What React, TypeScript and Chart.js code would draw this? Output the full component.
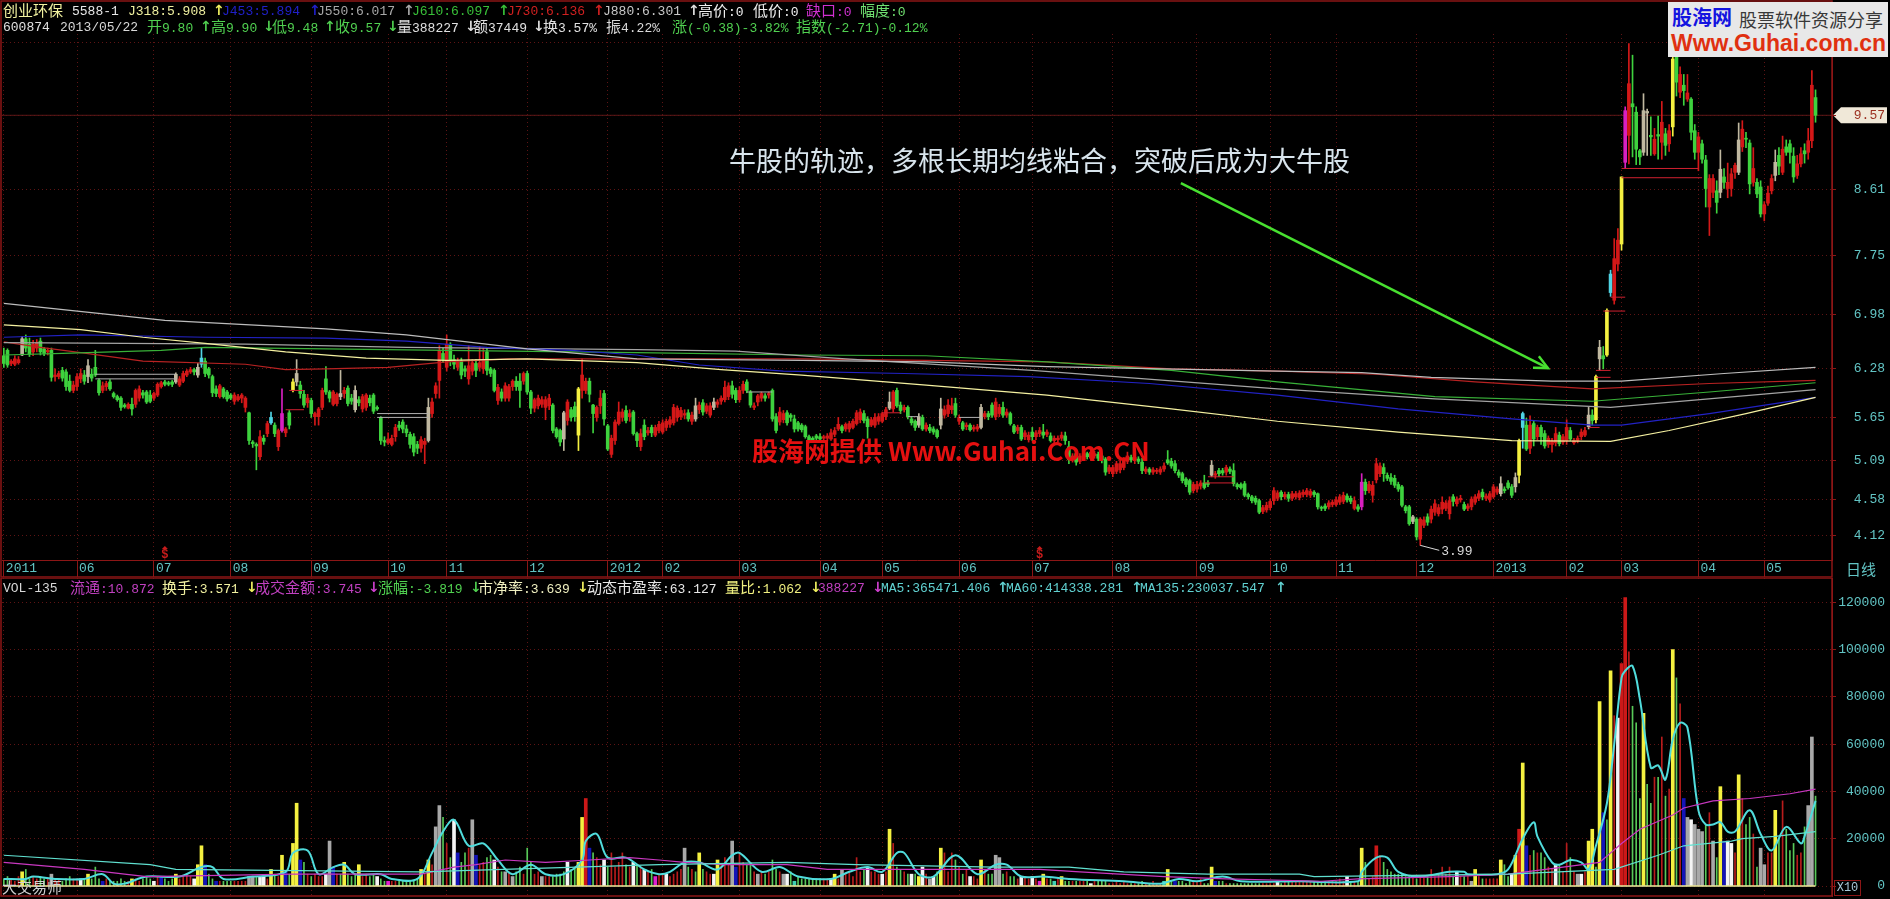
import React, { useEffect, useRef } from "react";
import { Chart, registerables } from "chart.js";

Chart.register(...registerables);

// ---------- price data: open, close, high, low in cents, four values per trading day ----------
const bars2011a = [
  645,635,655,630, 652,633,654,630, 635,638,640,632, 634,641,645,632, 636,640,644,634, 646,667,670,645, 667,655,672,650, 660,647,668,644, 650,660,665,645, 655,662,666,650,
  664,650,668,646, 654,648,656,645, 650,652,655,646, 652,617,655,612, 618,620,628,612, 618,622,625,615, 626,616,630,612, 624,605,627,600, 612,600,620,598, 600,607,612,597,
  605,618,622,600, 615,622,628,610, 620,612,626,608, 618,632,640,610, 621,616,628,612, 630,620,652,618, 613,597,615,594, 600,606,611,597, 605,609,612,600, 611,602,614,600,
  596,592,598,590, 592,588,594,586, 590,578,592,574, 581,579,583,577, 577,582,584,576, 582,576,590,568, 582,600,602,578, 590,602,606,586, 597,594,600,590, 598,585,600,583,
  594,586,600,584, 590,596,598,587, 594,608,610,592, 605,610,612,603, 611,608,613,606, 610,608,612,606, 611,608,613,605, 621,611,623,609, 607,615,618,605, 612,622,625,610,
  620,625,627,618, 624,627,630,622, 627,624,629,620, 630,620,635,617, 642,634,656,630, 638,622,642,618, 628,620,630,616, 618,597,620,592, 602,596,606,592, 592,606,608,590,
  602,592,604,590, 598,589,600,586, 594,590,596,588, 586,594,597,582, 588,592,595,586, 590,594,596,584, 578,590,592,572, 571,535,572,530, 533,531,535,526, 530,528,532,497,
  514,540,548,510, 538,534,542,530, 544,557,560,540, 565,558,572,556, 555,544,558,540, 527,548,550,522, 570,548,602,546, 545,550,552,540, 571,555,574,550, 600,611,615,598,
  622,611,640,606, 607,596,612,590, 595,581,600,578, 584,590,595,578, 587,570,590,565, 566,570,572,555, 566,576,578,555, 578,600,603,575, 615,598,631,595, 598,590,600,585,
  582,598,600,580, 583,595,597,580, 596,592,626,588, 596,600,604,590, 603,583,606,580, 590,586,595,582, 600,575,606,572, 588,584,592,580, 576,592,595,572, 578,594,596,574,
];
const bars2011b = [
  590,584,594,580, 594,573,596,570, 578,576,580,574, 565,535,566,530, 535,533,540,528, 532,537,545,530, 530,538,542,528, 540,552,556,534, 555,552,560,548, 559,550,562,545,
  550,545,555,540, 543,530,546,525, 540,520,544,515, 530,525,534,518, 525,536,540,520, 530,534,538,505, 578,535,590,533, 570,585,590,565, 596,606,610,590, 613,652,658,590,
  648,640,655,636, 630,660,672,625, 660,639,662,632, 640,634,646,628, 630,638,642,626, 638,620,642,615, 628,625,632,618, 615,632,658,608, 625,636,640,620, 635,626,640,618,
  630,636,657,625, 628,640,655,622, 650,626,655,620, 628,622,630,618, 626,600,628,598, 587,604,608,582, 598,590,602,586, 590,606,610,586, 590,605,608,586, 605,612,614,600,
  612,605,618,600, 612,600,622,578, 612,622,624,608, 622,598,625,595, 598,577,600,570, 577,588,590,572, 580,590,594,576, 582,588,592,578, 578,588,592,562, 580,590,595,575,
  581,548,583,545, 550,540,552,538, 548,533,550,528, 571,537,573,522, 561,585,588,555, 575,565,578,560, 579,566,585,560, 602,542,604,522, 600,620,641,590, 600,612,616,596,
  612,595,616,585, 581,570,582,545, 565,578,580,560, 580,590,600,570, 596,563,600,555, 554,524,556,522, 517,538,542,513, 535,559,562,530, 557,572,585,555, 565,572,576,560,
  574,561,580,558, 566,570,575,560, 572,544,574,542, 544,535,546,527, 527,544,550,522, 555,540,562,536, 545,548,552,542, 552,545,555,540, 542,552,555,540, 548,556,560,545,
  546,558,562,544, 552,560,563,548, 556,562,566,552, 558,578,582,555, 565,577,580,560, 566,574,578,562, 568,570,575,563, 571,563,575,560, 560,568,572,556, 580,563,590,560,
  575,581,585,570, 584,572,588,568, 573,580,583,570, 568,580,584,565, 585,578,590,575, 582,585,588,578, 586,590,593,582, 588,604,612,585, 592,606,610,588, 606,595,612,590,
];
const bars2012a = [
  600,588,603,584, 588,600,605,585, 600,608,612,596, 611,600,614,597, 598,581,600,578, 578,580,584,575, 585,593,595,580, 590,596,598,586, 593,590,596,586, 594,596,598,590,
  600,563,602,560, 566,548,570,545, 559,572,578,555, 562,570,574,558, 571,558,574,555, 568,565,570,560, 563,550,568,546, 558,550,560,547, 555,549,557,546, 553,540,555,538,
  540,535,542,532, 538,536,540,534, 541,538,543,535, 540,537,544,534, 538,540,542,535, 538,541,544,535, 537,545,550,535, 543,548,552,540, 550,556,565,548, 553,548,555,545,
  550,556,558,547, 550,557,560,546, 552,560,563,550, 557,571,574,555, 562,572,576,558, 570,561,574,558, 563,553,566,538, 555,562,565,553, 555,565,570,552, 560,566,570,556,
  560,570,572,558, 566,575,578,562, 585,577,598,575, 576,598,600,572, 600,580,603,578, 581,574,585,570, 575,578,581,572, 578,566,580,563, 563,558,566,555, 560,552,562,548,
  555,566,570,552, 565,550,568,548, 550,555,558,547, 552,548,556,545, 550,546,553,543, 548,540,550,538, 555,576,590,550, 568,575,580,564, 570,581,588,566, 575,580,590,570,
  583,568,590,565, 560,565,568,556, 558,550,560,548, 553,555,558,549, 555,549,557,547, 550,552,555,547, 550,553,556,547, 578,552,582,550, 566,570,573,563, 570,566,573,562,
  581,568,584,565, 566,585,590,562, 570,578,582,566, 578,568,585,565, 568,572,576,565, 570,557,572,555, 554,546,556,544, 548,552,555,544, 552,537,555,535, 540,545,548,536,
  536,542,546,533, 546,540,552,535, 540,545,548,536, 544,548,552,540, 546,542,556,538, 543,546,549,540, 541,535,545,533, 535,538,541,532, 536,538,541,533, 538,542,546,535,
  541,535,546,530, 527,510,534,505, 510,515,518,507, 518,507,520,503, 508,515,518,505, 512,518,521,509, 518,514,520,511, 512,520,523,510, 515,518,521,512, 517,512,520,509,
];
const bars2012b = [
  515,510,518,506, 511,494,513,490, 495,500,503,492, 492,500,503,488, 495,505,508,492, 497,505,510,493, 500,510,513,497, 508,515,520,505, 513,510,516,507, 510,513,518,505,
  511,508,514,505, 507,496,512,492, 495,498,501,492, 498,494,500,491, 494,497,500,491, 495,496,499,492, 494,498,501,491, 498,502,506,495, 510,506,522,504, 508,502,512,499,
  505,496,509,493, 494,490,497,487, 492,483,494,480, 485,478,487,475, 483,468,485,465, 470,478,481,467, 472,478,482,468, 476,480,483,472, 480,474,490,472, 480,478,483,475,
  503,490,509,488, 490,492,495,486, 496,492,499,488, 496,493,499,490, 494,500,503,490, 498,495,501,492, 496,479,505,476, 478,475,480,472, 478,474,480,472, 479,464,482,462,
  465,462,467,459, 462,457,464,454, 460,455,463,452, 457,442,459,440, 443,448,451,440, 445,451,455,442, 448,456,459,445, 457,470,474,452, 460,467,470,457, 468,462,470,458,
  462,465,468,459, 465,460,468,456, 460,466,469,457, 462,466,469,459, 461,467,470,458, 465,468,471,462, 465,470,473,462, 464,469,472,461, 468,465,470,462, 466,449,467,446,
  448,447,450,444, 450,447,453,444, 449,454,457,446, 452,455,458,449, 452,458,462,450, 455,462,465,452, 456,464,468,453, 463,458,466,455, 460,456,463,453, 447,457,462,445,
  449,446,452,443, 481,449,492,445, 481,470,485,465, 470,478,482,467, 464,477,482,455, 484,505,512,480, 492,502,506,488, 500,492,505,482, 490,486,493,483, 487,482,492,478,
  486,477,490,474, 478,472,481,469, 475,451,477,449, 449,444,451,441, 449,427,451,425, 430,436,438,427, 433,410,435,406, 407,433,435,399, 425,432,436,422, 436,429,440,425,
  433,446,450,428, 442,453,458,438, 440,448,452,437, 446,455,462,440, 447,454,457,444, 440,457,462,433, 462,456,465,450, 453,459,462,450, 458,460,464,455, 452,446,455,444,
];
const bars2013 = [
  447,450,453,444, 449,459,462,445, 455,462,465,452, 460,466,470,457, 468,462,472,458, 460,463,466,457, 458,466,469,455, 462,475,478,460, 468,472,475,465, 479,466,488,463,
  472,470,475,467, 480,474,483,472, 475,464,478,461, 487,475,493,468, 535,490,537,480, 570,552,572,525, 555,524,564,522, 525,555,567,518, 557,537,560,528, 540,552,555,536,
  552,540,555,530, 544,528,548,525, 530,538,541,526, 530,534,538,520, 532,544,552,528, 542,531,546,528, 533,540,543,530, 535,552,562,530, 548,537,552,535, 532,535,538,530,
  535,538,541,532, 540,546,550,536, 542,548,552,540, 568,553,578,550, 568,561,575,555, 618,562,620,558, 656,641,665,626, 645,641,657,628, 704,646,706,644, 751,727,756,722,
  717,771,797,712, 764,795,810,755, 790,877,877,782, 963,896,968,888, 931,998,1050,894, 972,968,1035,903, 961,913,968,893, 911,903,913,893, 963,909,985,905, 962,960,965,905,
  931,929,955,905, 907,926,940,905, 932,930,956,900, 922,948,975,900, 933,918,940,905, 920,937,945,910, 1030,942,1035,930, 1041,1000,1058,982, 987,1010,1020,980, 996,989,1010,970,
  978,986,1010,975, 978,935,980,925, 937,909,945,900, 909,929,935,885, 920,900,925,895, 899,862,905,838, 838,875,880,801, 857,875,880,850, 859,844,872,830, 887,857,912,850,
  877,870,888,862, 862,870,895,850, 862,881,888,852, 883,892,895,875, 925,883,947,880, 916,939,950,910, 927,926,935,915, 921,868,925,855, 870,888,915,865, 870,855,875,850,
  864,829,872,825, 829,841,845,820, 843,856,865,840, 859,875,880,855, 896,879,912,872, 905,891,915,880, 883,913,930,880, 916,909,925,905, 920,909,925,895, 904,877,915,870,
  879,894,905,875, 894,907,915,890, 911,907,920,895, 909,924,940,900, 924,996,1015,915, 980,957,990,948,
];

// bars drawn in other colours
const yellowCandles = [79, 157, 414, 435, 438, 442, 456];
const cyanCandles = [54, 73, 415, 439];
const magentaCandles = [76, 371, 443];
const greyCandles = [5, 23, 47, 53, 80, 92, 96, 116, 153, 189, 194, 242, 250, 256, 267, 330, 385, 409, 413, 433, 436, 448, 449, 469, 474, 484];

// ---------- moving averages of the price: [bar index, price in cents] ----------
const ma880 = [[0,713],[44,691],[88,680],[110,672],[143,654],[173,641],[218,639],[252,637],[285,631],[348,625],[371,623],[390,617],[423,612],[442,612],[470,622],[495,630]];
const ma318 = [[0,685],[21,679],[38,669],[55,661],[77,650],[99,642],[121,639],[143,641],[173,636],[196,627],[218,620],[252,607],[285,594],[319,576],[348,560],[381,546],[412,535],[439,534],[455,548],[476,570],[495,591]];
const ma453 = [[0,669],[21,672],[55,669],[88,668],[110,664],[132,656],[155,652],[173,646],[190,633],[213,625],[246,622],[280,618],[313,609],[348,594],[381,576],[412,563],[434,555],[442,555],[466,570],[495,591]];
const ma550 = [[0,662],[66,660],[110,656],[173,653],[200,651],[230,641],[281,626],[348,602],[391,589],[439,578],[495,601]];
const ma610 = [[0,646],[16,648],[43,652],[55,656],[88,654],[121,652],[173,649],[218,646],[252,645],[285,637],[319,626],[348,611],[391,592],[434,586],[466,598],[495,610]];
const ma730 = [[0,663],[10,656],[21,649],[38,638],[66,634],[77,627],[88,628],[105,630],[121,637],[138,641],[173,641],[218,641],[252,639],[285,637],[319,628],[348,625],[375,621],[402,611],[434,602],[466,609],[495,613]];

// gap marks: [first bar, last bar, price in cents]
const greyGaps = [[25,47,621],[25,47,615],[102,116,570],[102,116,565],[203,210,598],[247,250,566],[261,267,565]];
const redGaps = [[78,82,600],[77,82,575],[240,245,571],[329,336,488],[328,336,480],[433,436,552],[435,439,617],[435,439,626],[437,443,703],[439,443,721],[442,463,888],[442,464,876]];

// ---------- volume, thousands of lots per trading day ----------
const volumes = [
  3,4,3,2,4,6,7,3,4,3, 4,3,3,5,3,3,2,3,4,3, 3,3,3,5,3,8,3,2,3,2, 2,2,3,2,2,3,3,2,3,4, 3,2,4,4,3,2,3,5,3,4,
  5,4,3,9,17,9,5,3,2,2, 2,2,2,2,2,2,2,4,4,4, 4,4,3,7,5,4,13,6,5,18, 35,11,10,5,4,5,4,4,5,19, 8,5,5,10,5,4,5,9,4,5,
  4,5,4,3,2,2,2,2,2,2, 2,2,2,3,7,5,11,9,25,34, 29,18,12,28,14,10,14,16,28,13, 9,10,12,13,11,8,6,6,6,4, 6,8,5,16,10,5,6,4,4,4,
  4,5,5,6,10,7,8,10,29,37, 16,14,12,9,11,8,14,8,10,14, 9,8,10,9,8,7,6,7,4,5, 5,5,4,5,6,7,16,8,7,6, 14,7,6,5,5,11,9,12,9,19,
  8,14,10,9,10,6,5,6,5,6, 11,7,6,5,5,6,2,4,3,3, 3,3,3,3,3,3,3,5,3,7, 5,6,4,12,6,7,8,6,6,5, 5,6,24,18,8,7,6,5,5,5,
  4,8,5,3,4,6,16,14,6,14, 11,8,5,7,4,4,3,11,7,5, 5,13,12,5,6,4,4,3,4,4, 3,4,3,2,5,3,3,2,3,4, 2,2,2,2,2,2,2,1,2,2,
  2,2,1,1,2,1,2,1,1,1, 1,2,1,1,2,1,1,2,7,2, 2,2,2,1,2,2,2,3,1,1, 8,2,2,2,1,1,1,1,1,1, 1,1,1,1,1,1,1,1,2,1,
  2,2,2,2,2,2,2,2,2,2, 2,2,2,2,2,3,2,4,2,2, 2,16,10,3,4,17,13,10,7,6, 5,5,5,4,4,4,3,4,4,4, 7,4,5,8,5,8,4,6,4,4,
  4,2,7,4,3,3,3,3,3,11, 9,4,5,13,24,52,17,13,15,14, 14,12,8,7,9,9,6,18,12,6, 5,5,6,19,24,8,78,31,28,91,
  72,71,94,122,99,76,69,37,73,43, 35,46,46,63,38,41,100,88,77,37, 29,28,26,24,23,26,31,19,12,42, 19,19,18,14,47,37,26,29,22,8,
  16,9,14,14,32,20,36,24,15,18, 13,14,25,34,63,38,
];
const volYellow = [5,23,35,47,53,54,73,76,79,80,93,97,114,116,157,158,190,195,227,242,250,256,267,284,289,318,330,371,402,409,413,415,433,434,436,439,448,456,469,474,484];
const volGrey = [13,67,68,89,118,119,128,137,139,147,186,199,206,213,229,253,271,272,401,430,460,462,463,464,467,480,481,493,494];
const volWhite = [21,41,52,70,71,88,102,123,134,154,164,172,175,181,194,214,226,236,240,248,251,254,264,278,281,297,348,367,397,412,424,431,441,461,471,472];
const volBlue = [27,43,55,58,77,81,90,124,129,160,200,320,331,416,437,459,470];
const volMagenta = [105,178,283];
const volTeal = [216,287,317];
const volThickRed = [159,375,414,442,443];

// volume averages: [bar index, thousands]
const volMa5 = [[0,3],[6,3],[8,4],[14,3],[22,3],[27,5],[30,1],[33,1],[39,4],[48,4],[54,8],[57,8],[60,3],[68,4],[77,6],[79,14],[83,15],[86,5],[90,8],[93,9],[96,5],[103,5],[106,3],[113,3],[117,14],[120,23],[123,28],[127,17],[131,18],[135,11],[139,5],[144,9],[148,5],[153,5],[158,11],[159,19],[162,22],[165,12],[170,12],[175,7],[179,5],[182,6],[186,10],[190,10],[195,7],[199,13],[201,14],[207,6],[212,8],[217,4],[226,3],[231,6],[236,8],[240,6],[244,14],[246,14],[250,5],[254,4],[260,13],[266,5],[271,9],[274,9],[278,4],[284,4],[291,3],[306,2],[316,1],[321,3],[326,2],[333,4],[338,2],[354,2],[370,2],[371,6],[375,12],[378,12],[381,6],[387,4],[395,6],[399,6],[400,5],[408,5],[411,7],[415,20],[418,27],[419,21],[423,10],[425,9],[428,11],[431,10],[433,7],[435,17],[438,35],[440,60],[442,88],[443,91],[445,93],[447,79],[450,50],[452,51],[454,45],[456,62],[458,69],[460,67],[463,32],[465,26],[467,26],[469,27],[471,23],[473,23],[477,32],[480,22],[483,15],[487,25],[491,18],[492,21],[495,36]];
const volMa60 = [[0,10],[22,7],[33,5],[39,4],[79,5],[86,5],[114,5],[123,8],[129,9],[137,11],[148,10],[160,11],[171,12],[179,11],[186,10],[197,9],[214,9],[225,7],[248,7],[265,7],[283,7],[294,6],[317,4],[334,3],[360,2],[370,3],[395,4],[411,5],[426,8],[436,10],[442,18],[447,24],[456,30],[459,33],[467,36],[477,37],[488,39],[495,41]];
const volMa135 = [[0,13],[40,9],[47,7],[114,6],[179,9],[214,10],[233,9],[271,8],[291,8],[306,6],[329,5],[354,5],[358,4],[411,5],[440,7],[452,13],[459,17],[472,19],[475,20],[484,21],[495,23]];

// ---------- axes ----------
const monthTicks = [0,20,41,62,84,105,121,143,165,180,201,223,240,261,281,303,326,346,364,386,407,427,442,463,481];
const monthLabels = ["2011","06","07","08","09","10","11","12","2012","02","03","04","05","06","07","08","09","10","11","12","2013","02","03","04","05"];
const priceTicks = [4.12,4.58,5.09,5.65,6.28,6.98,7.75,8.61,9.57,10.52];
const volumeTicks = [0,20000,40000,60000,80000,100000,120000];
const lastPrice = 9.57;
const lowLabel = { bar: 387, price: 3.99, text: "3.99" };
const dividendBars = [44, 283];
const arrowStart = { bar: 321.6, price: 8.69 };
const arrowEnd = { bar: 421.9, price: 6.29 };

// ---------- text ----------
type Seg = [number, string, string];
const row1: Seg[] = [
  [3,"创业环保","#f2f2a0"],[72,"5588-1","#e8e8e8"],[128,"J318:5.908","#f0f0a0"],[213,"↑","#f0f060"],[222,"J453:5.894","#2020c8"],[309,"↑","#2020c8"],
  [317,"J550:6.017","#a8a8a8"],[403,"↑","#a8a8a8"],[412,"J610:6.097","#38c038"],[498,"↑","#38c038"],[507,"J730:6.136","#d02020"],[593,"↑","#d02020"],
  [603,"J880:6.301","#c8c8c8"],[688,"↑","#e0e0e0"],[698,"高价:0","#f0f0f0"],[753,"低价:0","#f0f0f0"],[806,"缺口:0","#d030d0"],[860,"幅度:0","#70e070"],
];
const row2: Seg[] = [
  [3,"600874","#e0e0e0"],[60,"2013/05/22","#d8d8d8"],[147,"开9.80","#50d050"],[200,"↑","#50d050"],[211,"高9.90","#50d050"],[263,"↓","#50d050"],
  [272,"低9.48","#50d050"],[324,"↑","#50d050"],[335,"收9.57","#50d050"],[387,"↓","#50d050"],[397,"量388227","#e0e0e0"],[465,"↓","#e0e0e0"],
  [473,"额37449","#e0e0e0"],[533,"↓","#e0e0e0"],[543,"换3.57%","#e0e0e0"],[606,"振4.22%","#d8d8d8"],[672,"涨(-0.38)-3.82%","#50d050"],[796,"指数(-2.71)-0.12%","#50d050"],
];
const row3: Seg[] = [
  [3,"VOL-135","#d8d8d8"],[70,"流通:10.872","#c040c0"],[162,"换手:3.571","#f0f0a0"],[246,"↓","#f0f060"],[255,"成交金额:3.745","#c040c0"],[368,"↓","#d040d0"],
  [378,"涨幅:-3.819","#50d050"],[470,"↓","#50d050"],[478,"市净率:3.639","#f0f0c0"],[577,"↓","#f0f060"],[587,"动态市盈率:63.127","#e8e8e8"],[725,"量比:1.062","#f0f080"],[810,"↓","#f0f060"],
  [818,"388227","#c040c0"],[872,"↓","#d040d0"],[881,"MA5:365471.406","#60d0d0"],[997,"↑","#60d0d0"],[1006,"MA60:414338.281","#60d0d0"],[1131,"↑","#60d0d0"],[1140,"MA135:230037.547","#60d0d0"],[1275,"↑","#60d0d0"],
];
const noteText = "牛股的轨迹，多根长期均线粘合，突破后成为大牛股";
const watermarkText = "股海网提供 Www.Guhai.Com.CN";
const logoName = "股海网";
const logoTag = "股票软件资源分享";
const logoUrl = "Www.Guhai.com.cn";
const brandText = "大交易师";
const periodText = "日线";
const scaleText = "X10";

// ---------- derived series ----------
const bars = [...bars2011a, ...bars2011b, ...bars2012a, ...bars2012b, ...bars2013];
const barCount = bars.length / 4;
const idx = Array.from({ length: barCount }, (_, i) => i);
const openAt = (i: number) => bars[i * 4] / 100;
const closeAt = (i: number) => bars[i * 4 + 1] / 100;
const highAt = (i: number) => bars[i * 4 + 2] / 100;
const lowAt = (i: number) => bars[i * 4 + 3] / 100;

const RED = "#d41818";
const GREEN = "#3ed23e";
const FRAME = "#8c1616";
const GRID = "#5e1414";
const TICK = "#62c4c4";
const MONO = '"Liberation Mono", "DejaVu Sans Mono", monospace';
const CJK = '"Noto Sans CJK SC", sans-serif';

const candleColor = (i: number) => {
  if (yellowCandles.includes(i)) return "#f4f040";
  if (cyanCandles.includes(i)) return "#50d4e4";
  if (magentaCandles.includes(i)) return "#d820c0";
  if (greyCandles.includes(i)) return "#c0b8a0";
  return closeAt(i) >= openAt(i) ? RED : GREEN;
};
const thickVolumeColor = (i: number) => {
  if (volYellow.includes(i)) return "#f4f040";
  if (volGrey.includes(i)) return "#a8a8a8";
  if (volWhite.includes(i)) return "#f4f4f4";
  if (volBlue.includes(i)) return "#1414b8";
  if (volMagenta.includes(i)) return "#e020d0";
  if (volTeal.includes(i)) return "#40d0b0";
  if (volThickRed.includes(i)) return "#cc1818";
  return null;
};
const pricePts = (a: number[][]) => a.map(([x, c]) => ({ x, y: c / 100 }));
const volPts = (a: number[][]) => a.map(([x, k]) => ({ x, y: k * 1000 }));
const gapPts = (a: number[][]) => a.flatMap(([s, e, c]) => [{ x: s, y: c / 100 }, { x: e, y: c / 100 }, { x: e, y: null as any }]);
const lineDs = (label: string, data: any[], color: string, width = 1.2, tension = 0, order = 1) => ({
  type: "line" as const, label, data, borderColor: color, borderWidth: width, pointRadius: 0, tension, order, spanGaps: false,
});

const xScale = (showLabels: boolean) => ({
  type: "linear" as const,
  min: -0.5,
  max: 499.5,
  offset: false,
  afterBuildTicks: (s: any) => { s.ticks = monthTicks.map((value) => ({ value })); },
  afterFit: (s: any) => { s.height = showLabels ? 18 : 0; s.paddingLeft = 0; s.paddingRight = 0; },
  border: { display: showLabels, color: FRAME, dash: [1, 3] },
  grid: { offset: false, color: GRID, lineWidth: 1, drawTicks: showLabels, tickLength: 17, tickColor: FRAME, tickBorderDash: [], z: -1 },
  ticks: {
    display: showLabels, autoSkip: false, maxRotation: 0, minRotation: 0, align: "start" as const, labelOffset: 2, padding: -16,
    color: TICK, font: { family: MONO, size: 13 },
    callback: (v: any) => monthLabels[monthTicks.indexOf(Number(v))] ?? "",
  },
});
const yScale = (min: number, max: number, ticks: number[], format: (v: number) => string, color: any) => ({
  position: "right" as const,
  min,
  max,
  afterBuildTicks: (s: any) => { s.ticks = ticks.map((value) => ({ value })); },
  afterFit: (s: any) => { s.width = 53; s.paddingTop = 0; s.paddingBottom = 0; },
  border: { display: true, color: FRAME, dash: [1, 3] },
  grid: { color: GRID, lineWidth: 1, tickLength: 4, tickColor: FRAME, tickBorderDash: [], z: -1 },
  ticks: { autoSkip: false, crossAlign: "far" as const, padding: 0, color, font: { family: MONO, size: 13 }, callback: (v: any) => format(Number(v)) },
});

const framePlugin = (bottom: number, top: number) => ({
  id: "frame",
  afterDraw(c: any) {
    const g = c.ctx;
    g.save();
    g.strokeStyle = FRAME;
    g.lineWidth = 1.5;
    g.strokeRect(1, top, c.chartArea.right - 1, bottom - top);
    g.restore();
  },
});

const pricePlugin = {
  id: "priceMarks",
  beforeDraw(c: any) {
    const g = c.ctx;
    const y = c.scales.y.getPixelForValue(lastPrice);
    g.save();
    g.fillStyle = "#f0e8d8";
    g.beginPath();
    g.moveTo(c.chartArea.right + 1, y);
    g.lineTo(c.chartArea.right + 9, y - 8);
    g.lineTo(1887, y - 8);
    g.lineTo(1887, y + 8);
    g.lineTo(c.chartArea.right + 9, y + 8);
    g.closePath();
    g.fill();
    g.restore();
  },
  afterDatasetsDraw(c: any) {
    const g = c.ctx;
    const { x, y } = c.scales;
    g.save();
    // arrow of the note
    const ax = x.getPixelForValue(arrowStart.bar), ay = y.getPixelForValue(arrowStart.price);
    const bx = x.getPixelForValue(arrowEnd.bar), by = y.getPixelForValue(arrowEnd.price);
    const ang = Math.atan2(by - ay, bx - ax);
    g.strokeStyle = "#48e030";
    g.lineWidth = 2.5;
    g.beginPath(); g.moveTo(ax, ay); g.lineTo(bx, by); g.stroke();
    g.beginPath();
    g.moveTo(bx - 15 * Math.cos(ang - 0.45), by - 15 * Math.sin(ang - 0.45));
    g.lineTo(bx, by);
    g.lineTo(bx - 15 * Math.cos(ang + 0.45), by - 15 * Math.sin(ang + 0.45));
    g.stroke();
    // low label
    const lx = x.getPixelForValue(lowLabel.bar), ly = y.getPixelForValue(lowLabel.price);
    g.strokeStyle = "#d8d8d8";
    g.lineWidth = 1;
    g.beginPath(); g.moveTo(lx, ly); g.lineTo(lx + 19, ly + 5); g.stroke();
    g.fillStyle = "#d8d8d8";
    g.font = `13px ${MONO}`;
    g.textBaseline = "middle";
    g.fillText(lowLabel.text, lx + 21, ly + 6);
    // dividend marks
    g.fillStyle = "#c81c1c";
    g.font = `bold 12px ${MONO}`;
    g.textAlign = "center";
    dividendBars.forEach((b) => {
      const px = x.getPixelForValue(b);
      g.fillText("$", px, 555);
      g.beginPath(); g.moveTo(px - 3, 549); g.lineTo(px, 546); g.lineTo(px + 3, 549); g.fill();
    });
    g.restore();
  },
};

function Mixed({ text, size = 13 }: { text: string; size?: number }) {
  const parts = text.split(/([\u3000-\u9fff\uff00-\uffef]+|[↑↓])/);
  return (
    <>
      {parts.map((p, i) => {
        if (/[↑↓]/.test(p)) return <span key={i} style={{ fontFamily: '"DejaVu Sans", sans-serif', fontSize: size + 1, fontWeight: 700 }}>{p}</span>;
        if (/[\u3000-\u9fff\uff00-\uffef]/.test(p)) return <span key={i} style={{ fontFamily: CJK, fontSize: size + 2 }}>{p}</span>;
        return <span key={i} style={{ fontFamily: MONO, fontSize: size }}>{p}</span>;
      })}
    </>
  );
}

function Row({ segs, y }: { segs: Seg[]; y: number }) {
  return (
    <>
      {segs.map(([x, t, c], i) => (
        <div key={i} style={{ position: "absolute", left: x, top: y - 10, height: 20, lineHeight: "20px", color: c, whiteSpace: "nowrap" }}>
          <Mixed text={t} />
        </div>
      ))}
    </>
  );
}

export default function App() {
  const priceRef = useRef<HTMLCanvasElement>(null);
  const volRef = useRef<HTMLCanvasElement>(null);

  useEffect(() => {
    const priceChart = new Chart(priceRef.current!, {
      type: "bar",
      data: {
        datasets: [
          lineDs("J880", pricePts(ma880), "#bcbcbc"),
          lineDs("J318", pricePts(ma318), "#f4f0a0"),
          lineDs("J453", pricePts(ma453), "#2222c4"),
          lineDs("J550", pricePts(ma550), "#a4a4a4"),
          lineDs("J610", pricePts(ma610), "#38b038"),
          lineDs("J730", pricePts(ma730), "#b82222"),
          lineDs("grey gaps", gapPts(greyGaps), "#b0b0b0", 1, 0, 0),
          lineDs("red gaps", gapPts(redGaps), "#d02030", 1, 0, 0),
          lineDs("last", [{ x: -0.5, y: lastPrice }, { x: 499.5, y: lastPrice }], "#5c1616", 1, 0, 3),
          {
            type: "bar" as const, label: "wick", order: 2, grouped: false, barThickness: 1,
            data: idx.map((i) => ({ x: i, y: [lowAt(i), highAt(i)] })),
            backgroundColor: idx.map(candleColor),
          },
          {
            type: "bar" as const, label: "body", order: 2, grouped: false, barThickness: 3, minBarLength: 1,
            data: idx.map((i) => ({ x: i, y: [openAt(i), closeAt(i)] })),
            backgroundColor: idx.map(candleColor),
          },
        ] as any,
      },
      options: {
        responsive: false, animation: false, devicePixelRatio: 1,
        layout: { padding: { left: 2, right: 5, top: 2, bottom: 0 } },
        plugins: { legend: { display: false }, tooltip: { enabled: false } },
        events: [],
        scales: {
          x: xScale(true) as any,
          y: yScale(3.8, 11.04, priceTicks, (v) => (v > 10 ? "" : v.toFixed(2)), (ctx: any) => (ctx.tick?.value === lastPrice ? "#9c3020" : TICK)) as any,
        },
      },
      plugins: [framePlugin(577, 1), pricePlugin],
    });

    const volChart = new Chart(volRef.current!, {
      type: "bar",
      data: {
        datasets: [
          lineDs("MA135", volPts(volMa135), "#60e0d0"),
          lineDs("MA60", volPts(volMa60), "#c838c0"),
          lineDs("MA5", volPts(volMa5), "#50dcdc", 2, 0.35),
          lineDs("zero", [{ x: 0, y: 0 }, { x: 495, y: 0 }], "#f4f0a0", 1.5, 0, 0),
          {
            type: "bar" as const, label: "thin volume", order: 3, grouped: false, barThickness: 1,
            data: idx.filter((i) => !thickVolumeColor(i)).map((i) => ({ x: i, y: volumes[i] * 1000 })),
            backgroundColor: idx.filter((i) => !thickVolumeColor(i)).map((i) => (closeAt(i) >= openAt(i) ? "#b81c1c" : "#58c858")),
          },
          {
            type: "bar" as const, label: "thick volume", order: 2, grouped: false, barThickness: 3,
            data: idx.filter((i) => thickVolumeColor(i)).map((i) => ({ x: i, y: volumes[i] * 1000 })),
            backgroundColor: idx.filter((i) => thickVolumeColor(i)).map((i) => thickVolumeColor(i)),
          },
        ] as any,
      },
      options: {
        responsive: false, animation: false, devicePixelRatio: 1,
        layout: { padding: { left: 2, right: 5, top: 0, bottom: 3 } },
        plugins: { legend: { display: false }, tooltip: { enabled: false } },
        events: [],
        scales: {
          x: xScale(false) as any,
          y: yScale(-4228, 130233, volumeTicks, (v) => String(v), TICK) as any,
        },
      },
      plugins: [framePlugin(318, 0)],
    });

    return () => {
      priceChart.destroy();
      volChart.destroy();
    };
  }, []);

  return (
    <div style={{ position: "absolute", left: 0, top: 0, width: 1890, height: 899, background: "#000", overflow: "hidden" }}>
      <canvas ref={priceRef} width={1890} height={578} style={{ position: "absolute", left: 0, top: 0, display: "block" }} />
      <canvas ref={volRef} width={1890} height={321} style={{ position: "absolute", left: 0, top: 578, display: "block" }} />

      <div style={{ position: "absolute", left: 2, top: 2, width: 1660, height: 32, background: "#000" }} />
      <div style={{ position: "absolute", left: 2, top: 579, width: 1829, height: 17, background: "#000" }} />
      <Row segs={row1} y={10} />
      <Row segs={row2} y={26} />
      <Row segs={row3} y={587} />

      <div style={{ position: "absolute", left: 729, top: 142, fontFamily: CJK, fontSize: 27, lineHeight: "36px", color: "#d8e4ec", whiteSpace: "nowrap" }}>{noteText}</div>
      <div style={{ position: "absolute", left: 752, top: 433, fontFamily: CJK, fontWeight: 700, fontSize: 26, lineHeight: "34px", color: "#e41010", whiteSpace: "nowrap" }}>{watermarkText}</div>

      <div style={{ position: "absolute", left: 1668, top: 2, width: 220, height: 55, background: "#e8e8e8" }}>
        <div style={{ position: "absolute", left: 4, top: 1, fontFamily: CJK, fontWeight: 700, fontSize: 20, lineHeight: "28px", color: "#1414e0" }}>{logoName}</div>
        <div style={{ position: "absolute", left: 71, top: 5, fontFamily: CJK, fontSize: 18, lineHeight: "24px", color: "#383838", whiteSpace: "nowrap" }}>{logoTag}</div>
        <div style={{ position: "absolute", left: 3, top: 27, fontFamily: '"Liberation Sans", sans-serif', fontWeight: 700, fontSize: 23, lineHeight: "28px", color: "#e03010", whiteSpace: "nowrap" }}>{logoUrl}</div>
      </div>

      <div style={{ position: "absolute", left: 1846, top: 560, fontFamily: CJK, fontSize: 15, lineHeight: "18px", color: TICK }}>{periodText}</div>
      <div style={{ position: "absolute", left: 1834, top: 880, width: 25, height: 14, border: `1px solid ${FRAME}`, fontFamily: MONO, fontSize: 12, lineHeight: "14px", color: "#a8c8d8", textAlign: "center" }}>{scaleText}</div>
      <div style={{ position: "absolute", left: 2, top: 878, fontFamily: CJK, fontSize: 15, lineHeight: "18px", color: "#d0d0d0" }}>{brandText}</div>
    </div>
  );
}
